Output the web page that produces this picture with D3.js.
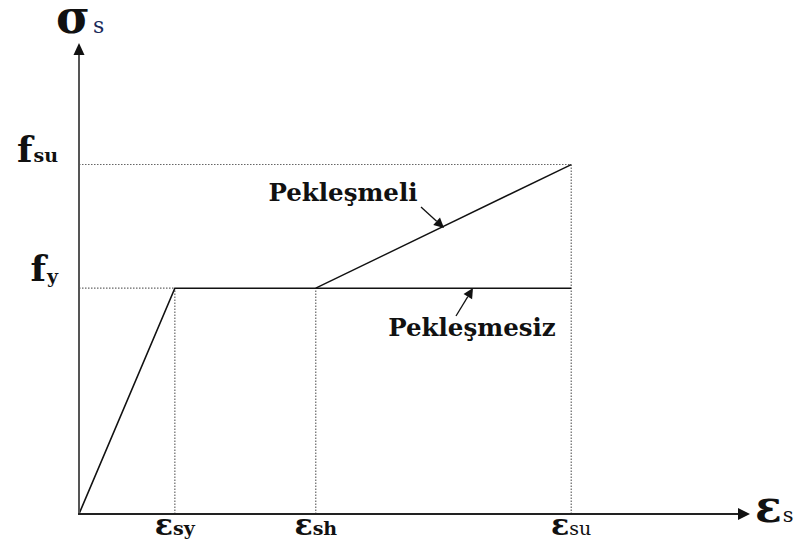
<!DOCTYPE html>
<html><head><meta charset="utf-8">
<script src="https://cdn.jsdelivr.net/npm/d3@7"></script>
<style>body{margin:0;background:#fff}svg{display:block}</style>
</head><body>
<svg id="c" width="797" height="548"></svg>
<script>
// strain values (arbitrary units)
const strainKeys = ["esy", "esh", "esu"];
const strainValues = [2.0, 4.94, 10.27];
const strainMax = 14.0;
// stress values (MPa-like units)
const stressKeys = ["fy", "fsu"];
const stressValues = [420, 650];
const stressMax = 876;
// curve points
const perfectlyPlastic = [[0, 0], [2.0, 420], [10.27, 420]];
const hardening = [[4.94, 420], [10.27, 650]];

const svg = d3.select("#c");
const x = d3.scaleLinear().domain([0, strainMax]).range([79, 750]);
const y = d3.scaleLinear().domain([0, stressMax]).range([514, 43]);
const font = "'DejaVu Serif', 'Liberation Serif', serif";

const esy = strainValues[0], esh = strainValues[1], esu = strainValues[2];
const fy = stressValues[0], fsu = stressValues[1];

// dotted guides
const guides = [
  [[0, fy], [esy, fy]],
  [[0, fsu], [esu, fsu]],
  [[esy, 0], [esy, fy]],
  [[esh, 0], [esh, fy]],
  [[esu, 0], [esu, fsu]]
];
svg.selectAll("line.guide").data(guides).join("line")
  .attr("x1", d => x(d[0][0])).attr("y1", d => y(d[0][1]))
  .attr("x2", d => x(d[1][0])).attr("y2", d => y(d[1][1]))
  .attr("stroke", "#666").attr("stroke-width", 1.2).attr("stroke-dasharray", "1.5,1.5");

const line = d3.line().x(d => x(d[0])).y(d => y(d[1]));
svg.append("path").attr("d", line(perfectlyPlastic)).attr("fill", "none")
  .attr("stroke", "#111").attr("stroke-width", 1.6);
svg.append("path").attr("d", line(hardening)).attr("fill", "none")
  .attr("stroke", "#111").attr("stroke-width", 1.4);

// axes
svg.append("line").attr("x1", x(0)).attr("y1", y(0)).attr("x2", x(0)).attr("y2", y(stressMax) + 10)
  .attr("stroke", "#555").attr("stroke-width", 2);
svg.append("line").attr("x1", x(0) - 1).attr("y1", y(0)).attr("x2", x(strainMax) - 10).attr("y2", y(0))
  .attr("stroke", "#222").attr("stroke-width", 2);
svg.append("path")
  .attr("d", `M${x(0)},${y(stressMax)} L${x(0) - 5.5},${y(stressMax) + 12} L${x(0) + 5.5},${y(stressMax) + 12} Z`)
  .attr("fill", "#111");
svg.append("path")
  .attr("d", `M${x(strainMax)},${y(0)} L${x(strainMax) - 12},${y(0) - 6} L${x(strainMax) - 12},${y(0) + 6} Z`)
  .attr("fill", "#111");

// axis titles
const t1 = svg.append("text").attr("x", 56).attr("y", 33).attr("font-family", font).attr("font-weight", "bold").attr("fill", "#111");
t1.append("tspan").attr("font-size", 46).text("σ");
t1.append("tspan").attr("font-size", 22).attr("dx", 3).attr("font-weight", "normal").attr("fill", "#1a2a5a").text("s");
const t2 = svg.append("text").attr("x", 755).attr("y", 522).attr("font-family", font).attr("font-weight", "bold").attr("fill", "#111");
t2.append("tspan").attr("font-size", 44).text("ε");
t2.append("tspan").attr("font-size", 21).attr("dx", 1).attr("font-weight", "normal").text("s");

// stress labels
const stressLabels = [["f", "su"], ["f", "y"]];
const stressLabelY = [fsu, fy];
stressLabels.forEach((lab, i) => {
  const t = svg.append("text").attr("x", 58).attr("y", y(stressLabelY[i]) - 3 - (i === 1 ? 4 : 0))
    .attr("text-anchor", "end").attr("font-family", font).attr("font-weight", "bold").attr("fill", "#111");
  t.append("tspan").attr("font-size", 36).text(lab[0]);
  t.append("tspan").attr("font-size", 19).attr("dx", 1).attr("dy", lab[1] === "y" ? 2 : 0).text(lab[1]);
});

// strain labels
const strainLabelSubs = ["sy", "sh", "su"];
strainLabelSubs.forEach((sub, i) => {
  const t = svg.append("text").attr("x", x(strainValues[i])).attr("y", 535)
    .attr("text-anchor", "middle").attr("font-family", font).attr("font-weight", "bold").attr("fill", "#111");
  t.append("tspan").attr("font-size", 30).text("ε");
  t.append("tspan").attr("font-size", 19).attr("font-weight", sub === "su" ? "normal" : "bold").text(sub);
});

// annotations
const annotations = [
  {text: "Pekleşmeli", tx: 343, ty: 201, from: [421, 207], to: [444, 228]},
  {text: "Pekleşmesiz", tx: 472, ty: 336, from: [456, 316], to: [473, 288]}
];
annotations.forEach(a => {
  svg.append("text").attr("x", a.tx).attr("y", a.ty).attr("text-anchor", "middle")
    .attr("font-family", font).attr("font-weight", "bold").attr("font-size", 24.5).attr("fill", "#111").text(a.text);
  const dx = a.to[0] - a.from[0], dy = a.to[1] - a.from[1];
  const L = Math.hypot(dx, dy), ux = dx / L, uy = dy / L;
  const bx = a.to[0] - ux * 10, by = a.to[1] - uy * 10;
  svg.append("line").attr("x1", a.from[0]).attr("y1", a.from[1]).attr("x2", bx).attr("y2", by)
    .attr("stroke", "#111").attr("stroke-width", 1.3);
  svg.append("path").attr("d", `M${a.to[0]},${a.to[1]} L${bx - uy * 5},${by + ux * 5} L${bx + uy * 5},${by - ux * 5} Z`)
    .attr("fill", "#111");
});
</script>
</body></html>
